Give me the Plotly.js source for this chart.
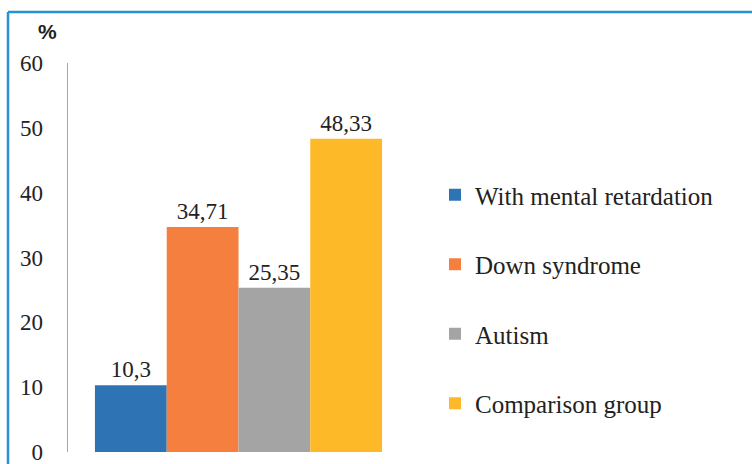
<!DOCTYPE html>
<html>
<head>
<meta charset="utf-8">
<script src="https://cdn.plot.ly/plotly-3.0.1.min.js"></script>
<style>
html,body{margin:0;padding:0;background:#fff;}
#chart{width:752px;height:464px;}
</style>
</head>
<body>
<div id="chart"></div>
<script>
const groups = ["With mental retardation", "Down syndrome", "Autism", "Comparison group"];
const values = [10.3, 34.71, 25.35, 48.33];
const valueLabels = ["10,3", "34,71", "25,35", "48,33"];
const colors = ["#2e74b5", "#f47f3e", "#a4a4a4", "#fdb928"];
const yTicks = [0, 10, 20, 30, 40, 50, 60];
const category = [""];

const serif = "Liberation Serif, Times New Roman, serif";

const traces = groups.map((g, i) => ({
  type: "bar",
  name: g,
  legendgroup: "g" + i,
  x: category,
  y: [values[i]],
  text: [valueLabels[i]],
  textposition: "outside",
  textfont: {family: serif, size: 23, color: "#222"},
  marker: {color: colors[i]},
  hoverinfo: "skip",
  cliponaxis: false
}));

const L = 68, R = 409, T = 63, B = 452, W = 752, H = 464;
const pw = R - L, ph = B - T;
const px = v => (v - L) / pw;
const py = v => (B - v) / ph;

const layout = {
  width: W, height: H,
  margin: {l: L, r: W - R, t: T, b: H - B, pad: 0},
  paper_bgcolor: "#fff",
  plot_bgcolor: "#fff",
  barmode: "group",
  bargap: 0.158,
  bargroupgap: 0,
  showlegend: true,
  legend: {
    x: px(435), xanchor: "left",
    y: py(172), yanchor: "top",
    font: {family: serif, size: 25, color: "#222"},
    tracegroupgap: 34,
    traceorder: "grouped",
    bgcolor: "rgba(0,0,0,0)"
  },
  xaxis: {
    type: "category",
    showticklabels: false,
    showline: false,
    showgrid: false,
    zeroline: false,
    ticks: ""
  },
  yaxis: {
    range: [0, 60],
    tickvals: yTicks,
    ticktext: yTicks.map(String),
    showline: true,
    linecolor: "#a6a6a6",
    linewidth: 1.5,
    showgrid: false,
    zeroline: false,
    ticks: "",
    ticklabelstandoff: 19,
    ticklabeloverflow: "allow",
    tickfont: {family: serif, size: 23, color: "#222"}
  },
  annotations: [{
    text: "<b>%</b>",
    xref: "paper", yref: "paper",
    x: px(47), y: py(31),
    xanchor: "center", yanchor: "middle",
    showarrow: false,
    font: {family: "Liberation Sans, Arial, sans-serif", size: 21, color: "#222"}
  }],
  shapes: [
    {type: "line", xref: "paper", yref: "paper", x0: px(8), x1: px(752), y0: py(12), y1: py(12),
     line: {color: "#2a8fd6", width: 2.5}},
    {type: "line", xref: "paper", yref: "paper", x0: px(8), x1: px(8), y0: py(12), y1: py(464),
     line: {color: "#2a8fd6", width: 2.5}}
  ]
};

Plotly.newPlot("chart", traces, layout, {displayModeBar: false, staticPlot: true});
</script>
</body>
</html>
